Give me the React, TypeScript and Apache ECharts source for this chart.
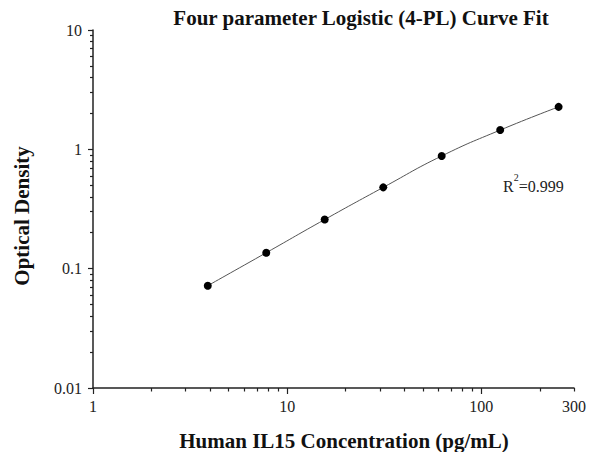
import React, { useEffect, useRef } from "react";
import * as echarts from "echarts";

const concentrations = [3.9, 7.8, 15.6, 31.25, 62.5, 125, 250];
const opticalDensity = [0.072, 0.136, 0.258, 0.48, 0.88, 1.45, 2.27];

const xMajorTicks = [1, 10, 100];
const xLabels = [1, 10, 100, 300];
const xMinorTicks = [2, 3, 4, 5, 6, 7, 8, 9, 20, 30, 40, 50, 60, 70, 80, 90, 200, 300];
const yMajorTicks = [0.01, 0.1, 1, 10];
const yMinorTicks = [
  0.02, 0.03, 0.04, 0.05, 0.06, 0.07, 0.08, 0.09,
  0.2, 0.3, 0.4, 0.5, 0.6, 0.7, 0.8, 0.9,
  2, 3, 4, 5, 6, 7, 8, 9,
];

const titleText = "Four parameter Logistic (4-PL) Curve Fit";
const xName = "Human IL15 Concentration (pg/mL)";
const yName = "Optical Density";
const r2Value = "0.999";

const FONT = "'Liberation Serif', 'Times New Roman', serif";

export default function App() {
  const ref = useRef<HTMLDivElement>(null);
  useEffect(() => {
    if (!ref.current) return;
    const chart = echarts.init(ref.current, null, { renderer: "svg" });
    const points = concentrations.map((c, i) => [c, opticalDensity[i]]);
    const axisLine = { show: true, lineStyle: { color: "#222", width: 1.5 } };
    const fmt = (v: number) => String(v);
    const boldText = (text: string, x: number, y: number, rotation = 0) => ({
      type: "text",
      x,
      y,
      rotation,
      style: {
        text,
        font: `bold 21px ${FONT}`,
        fill: "#111",
        textAlign: "center",
        textVerticalAlign: "middle",
      },
    });
    chart.setOption({
      animation: false,
      backgroundColor: "#fff",
      grid: { left: 93, right: 12, top: 30, bottom: 64, containLabel: false },
      graphic: [
        boldText(titleText, 361, 18),
        boldText(xName, 344, 441),
        boldText(yName, 22, 216, Math.PI / 2),
        {
          type: "text",
          x: 503,
          y: 182,
          style: {
            text: `{r|R}{s|2}{r|=${r2Value}}`,
            rich: {
              r: { font: `16px ${FONT}`, fill: "#222", verticalAlign: "bottom", height: 18 },
              s: { font: `10px ${FONT}`, fill: "#222", verticalAlign: "top", height: 18, padding: [0, 0, 9, 0] },
            },
            textVerticalAlign: "middle",
          },
        },
      ],
      xAxis: [
        {
          type: "log",
          logBase: 10,
          min: 1,
          max: 300,
          position: "bottom",
          axisLine,
          axisTick: { show: true, inside: false, length: 6, customValues: xMajorTicks, lineStyle: { color: "#222", width: 1.2 } },
          axisLabel: { customValues: xLabels, formatter: fmt, margin: 10, fontFamily: FONT, fontSize: 16, color: "#222" },
          splitLine: { show: false },
          minorTick: { show: false },
        },
        {
          type: "log",
          logBase: 10,
          min: 1,
          max: 300,
          position: "bottom",
          axisLine: { show: false },
          axisTick: { show: true, inside: false, length: 3.5, customValues: xMinorTicks, lineStyle: { color: "#222", width: 1.2 } },
          axisLabel: { show: false },
          splitLine: { show: false },
        },
      ],
      yAxis: [
        {
          type: "log",
          logBase: 10,
          min: 0.01,
          max: 10,
          position: "left",
          axisLine,
          axisTick: { show: true, inside: false, length: 5, customValues: yMajorTicks, lineStyle: { color: "#222", width: 1.2 } },
          axisLabel: { customValues: yMajorTicks, formatter: fmt, margin: 11, fontFamily: FONT, fontSize: 16, color: "#222" },
          splitLine: { show: false },
        },
        {
          type: "log",
          logBase: 10,
          min: 0.01,
          max: 10,
          position: "left",
          axisLine: { show: false },
          axisTick: { show: true, inside: false, length: 3, customValues: yMinorTicks, lineStyle: { color: "#222", width: 1.2 } },
          axisLabel: { show: false },
          splitLine: { show: false },
        },
      ],
      series: [
        {
          type: "line",
          xAxisIndex: 0,
          yAxisIndex: 0,
          data: points,
          smooth: true,
          symbol: "circle",
          symbolSize: 8,
          itemStyle: { color: "#000" },
          lineStyle: { color: "#555", width: 1 },
          z: 3,
        },
      ],
    });
    return () => chart.dispose();
  }, []);
  return <div ref={ref} style={{ width: 589, height: 452, position: "absolute", left: 0, top: 0 }} />;
}
